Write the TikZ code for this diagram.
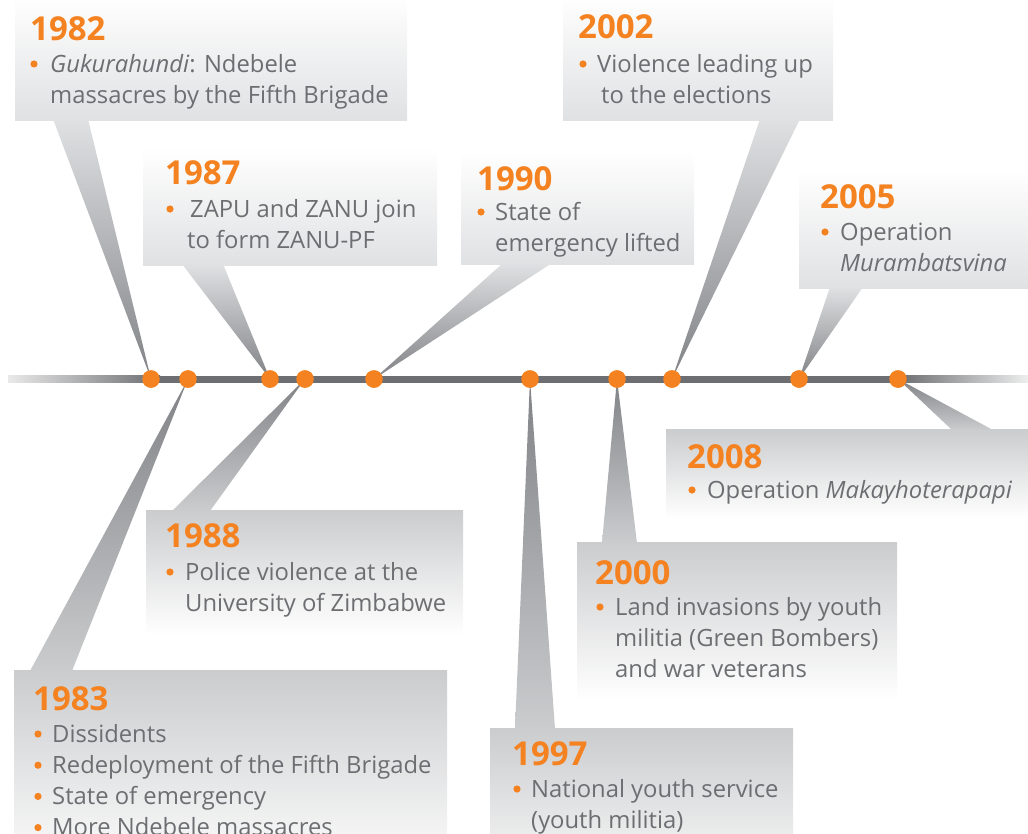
\documentclass[tikz,border=0pt]{standalone}
\usepackage{fontspec}
\setmainfont{Open Sans}
\definecolor{txt}{HTML}{6D6E71}
\definecolor{org}{HTML}{F58220}
\definecolor{topg}{HTML}{E0E1E3}
\definecolor{botg}{HTML}{CBCCCE}
\definecolor{tipg}{HTML}{808285}
\definecolor{linec}{HTML}{6D6E71}
\newcommand{\tlines}[1]{\begin{tabular}[t]{@{}l@{}}#1\end{tabular}}
\begin{document}
\begin{tikzpicture}[x=1pt,y=-1pt,
 dot/.style={circle,fill=org,inner sep=0pt,minimum size=17.5pt},
 bdot/.style={circle,fill=org,inner sep=0pt,minimum size=7.2pt},
 year/.style={anchor=base west,inner sep=0pt,text=org,font=\fontsize{33}{33}\selectfont\bfseries},
 body/.style={anchor=base west,inner sep=0pt,text=txt,font=\fontsize{23.8}{31.2}\selectfont},
 tbox/.style={top color=white,bottom color=topg},
 bbox/.style={top color=botg,bottom color=white},
 tptr/.style={top color=topg,bottom color=tipg},
 bptr/.style={top color=tipg,bottom color=botg}]
\useasboundingbox (0,0) rectangle (1028,833);
\clip (0,0) rectangle (1028,833);
% boxes
\shade[tbox] (15,-5) rectangle (407,120);
\shade[tbox] (563,-5) rectangle (833,120);
\shade[tbox] (143,148) rectangle (437,265);
\shade[tbox] (461,152) rectangle (694,264);
\shade[tbox] (799,170) rectangle (1030,288);
\shade[bbox] (666,429) rectangle (1030,518);
\shade[bbox] (146,510) rectangle (463,635);
\shade[bbox] (577,542) rectangle (897,700);
\shade[bbox] (14,670) rectangle (447,880);
\shade[bbox] (490,728) rectangle (793,900);
% dots
\node[dot] (d1982) at (151,379) {};
\node[dot] (d1983) at (188,379) {};
\node[dot] (d1987) at (270,379) {};
\node[dot] (d1988) at (305,379) {};
\node[dot] (d1990) at (374,379) {};
\node[dot] (d1997) at (530,379) {};
\node[dot] (d2000) at (617,379) {};
\node[dot] (d2002) at (672,379) {};
\node[dot] (d2005) at (799,379) {};
\node[dot] (d2008) at (898,379) {};
% pointers
\shade[tptr] (53,119) -- (88,119) -- (d1982.center) -- cycle;
\shade[tptr] (182,264) -- (223,264) -- (d1987.center) -- cycle;
\shade[tptr] (503,263) -- (552,263) -- (d1990.center) -- cycle;
\shade[tptr] (760,119) -- (800,119) -- (d2002.center) -- cycle;
\shade[tptr] (830,287) -- (863,287) -- (d2005.center) -- cycle;
\shade[bptr] (d2008.center) -- (993,430) -- (952,430) -- cycle;
\shade[bptr] (d1988.center) -- (210,511) -- (172,511) -- cycle;
\shade[bptr] (d1983.center) -- (72,671) -- (30,671) -- cycle;
\shade[bptr] (d2000.center) -- (637,543) -- (602,543) -- cycle;
\shade[bptr] (d1997.center) -- (555,729) -- (515,729) -- cycle;
% timeline
\shade[left color=white!85!linec,right color=linec] (8,375.5) rectangle (160,382.5);
\fill[linec] (159,375.5) rectangle (901,382.5);
\shade[left color=linec,right color=white!88!linec] (900,375.5) rectangle (1028,382.5);
% dots on top
\foreach \d in {d1982,d1983,d1987,d1988,d1990,d1997,d2000,d2002,d2005,d2008}
  \fill[org] (\d.center) circle (8.75);
% texts
\node[year] (y1982) at (30,40) {1982};
\node[bdot] (b1982) at (34,64) {};
\node[body] (t1982) at (50,72) {\tlines{\textit{Gukurahundi}: Ndebele\\massacres by the Fifth Brigade}};
\node[year] (y1987) at (165,184) {1987};
\node[bdot] (b1987) at (170,209) {};
\node[body] (t1987) at (187,217) {\tlines{\hspace{3pt}ZAPU and ZANU join\\to form ZANU-PF}};
\node[year] (y1990) at (477,190) {1990};
\node[bdot] (b1990) at (481,212) {};
\node[body] (t1990) at (495,220) {\tlines{State of\\emergency lifted}};
\node[year] (y2002) at (578,38) {2002};
\node[bdot] (b2002) at (583,64) {};
\node[body] (t2002) at (597,72) {\tlines{Violence leading up\\\hspace{4pt}to the elections}};
\node[year] (y2005) at (820,208) {2005};
\node[bdot] (b2005) at (825,232) {};
\node[body] (t2005) at (840,240) {\tlines{Operation\\\textit{Murambatsvina}}};
\node[year] (y2008) at (687,468) {2008};
\node[bdot] (b2008) at (692,490) {};
\node[body] (t2008) at (707,498) {Operation \textit{Makayhoterapapi}};
\node[year] (y1988) at (165,547) {1988};
\node[bdot] (b1988) at (170,572) {};
\node[body] (t1988) at (185,580) {\tlines{Police violence at the\\University of Zimbabwe}};
\node[year] (y2000) at (595,584) {2000};
\node[bdot] (b2000) at (600,607) {};
\node[body] (t2000) at (615,615) {\tlines{Land invasions by youth\\militia (Green Bombers)\\and war veterans}};
\node[year] (y1983) at (33,710) {1983};
\node[bdot] (b1983a) at (38,734) {};
\node[bdot] (b1983b) at (38,765.2) {};
\node[bdot] (b1983c) at (38,796.4) {};
\node[bdot] (b1983d) at (38,827.6) {};
\node[body] (t1983) at (52,742) {\tlines{Dissidents\\Redeployment of the Fifth Brigade\\State of emergency\\More Ndebele massacres}};
\node[year] (y1997) at (512,765) {1997};
\node[bdot] (b1997) at (517,789) {};
\node[body] (t1997) at (531,797) {\tlines{National youth service\\(youth militia)}};
\end{tikzpicture}
\end{document}
